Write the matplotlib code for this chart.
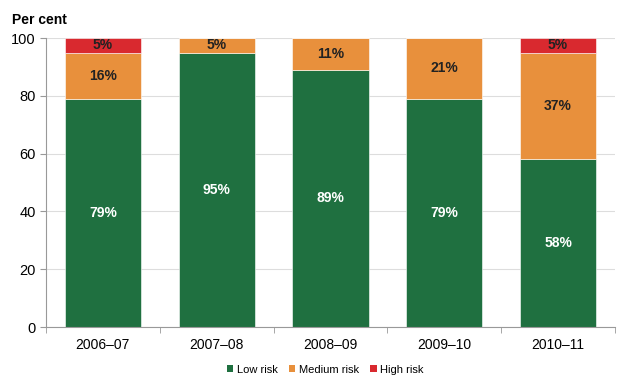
import numpy as np
import matplotlib.pyplot as plt
from matplotlib.patches import Patch

# data
years = ["2006\u201307", "2007\u201308", "2008\u201309", "2009\u201310", "2010\u201311"]
low_risk = [79, 95, 89, 79, 58]
medium_risk = [16, 5, 11, 21, 37]
high_risk = [5, 0, 0, 0, 5]

series_names = ["Low risk", "Medium risk", "High risk"]
colors = ["#1f7040", "#e8903c", "#d9292f"]
label_colors = ["white", "#222222", "#222222"]

plt.rcParams["font.family"] = ["Arial", "Liberation Sans", "DejaVu Sans"]

fig = plt.figure(figsize=(6.25, 3.85), dpi=100)
ax = fig.add_axes([0.0736, 0.1506, 0.9104, 0.7504])

x = np.arange(len(years))
width = 0.67
bottom = np.zeros(len(years))
for vals, name, col, lcol in zip([low_risk, medium_risk, high_risk],
                                 series_names, colors, label_colors):
    vals = np.array(vals, dtype=float)
    ax.bar(x, vals, width, bottom=bottom, color=col, label=name,
           edgecolor="white", linewidth=0.4, zorder=2)
    for xi, b, v in zip(x, bottom, vals):
        if v > 0:
            ax.text(xi, b + v / 2, f"{int(v)}%", ha="center", va="center",
                    fontsize=10, fontweight="bold", color=lcol, zorder=3)
    bottom += vals

ax.set_xlim(-0.5, len(years) - 0.5)
ax.set_ylim(0, 100)
ax.set_yticks(range(0, 101, 20))
ax.set_xticks(x)
ax.set_xticklabels(years, fontsize=10)
ax.tick_params(axis="y", labelsize=10.5, length=4, color="#999999")
ax.tick_params(axis="x", length=0, pad=8)
# ticks between categories on the bottom axis
ax.set_xticks(np.arange(-0.5, len(years), 1.0), minor=True)
ax.tick_params(axis="x", which="minor", length=4, color="#999999")

ax.grid(axis="y", color="#dddddd", linewidth=0.8, zorder=0)
ax.set_axisbelow(True)
for side in ["top", "right"]:
    ax.spines[side].set_visible(False)
for side in ["left", "bottom"]:
    ax.spines[side].set_color("#999999")

fig.text(0.019, 0.965, "Per cent", fontsize=10, fontweight="bold", va="top")

handles = [Patch(facecolor=c, label=n) for c, n in zip(colors, series_names)]
fig.legend(handles=handles, loc="center", bbox_to_anchor=(0.52, 0.04),
           ncol=3, frameon=False, fontsize=8, handlelength=0.6,
           handleheight=0.6, handletextpad=0.3, columnspacing=1.0)

fig.savefig("out.png", dpi=100)
